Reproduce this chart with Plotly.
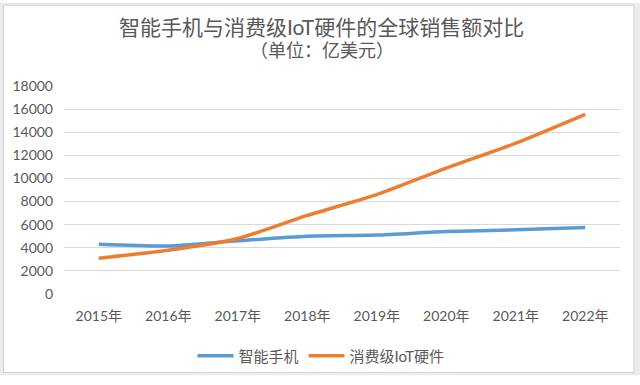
import plotly.graph_objects as go

years = ["2015年", "2016年", "2017年", "2018年", "2019年", "2020年", "2021年", "2022年"]
smartphone = [4300, 4150, 4600, 5000, 5100, 5400, 5550, 5750]
iot = [3100, 3780, 4800, 6800, 8600, 10900, 13050, 15550]
series_names = ["智能手机", "消费级IoT硬件"]
y_ticks = [0, 2000, 4000, 6000, 8000, 10000, 12000, 14000, 16000, 18000]

FONT = "Lato, Noto Sans CJK SC, sans-serif"
TXT = "#595959"

fig = go.Figure()
fig.add_trace(go.Scatter(x=years, y=smartphone, mode="lines", name=series_names[0],
                         line=dict(color="#5B9BD5", width=3.5, shape="spline", smoothing=0.6)))
fig.add_trace(go.Scatter(x=years, y=iot, mode="lines", name=series_names[1],
                         line=dict(color="#ED7D31", width=3.5, shape="spline", smoothing=0.6)))

L, R, T, B = 64, 20, 86, 84
W, H = 640, 385
pw, ph = W - L - R, H - T - B

def px(x):
    return (x - L) / pw

def py(y):
    return (H - B - y) / ph

fig.update_layout(
    width=W, height=H,
    margin=dict(l=L, r=R, t=T, b=B),
    paper_bgcolor="white", plot_bgcolor="white",
    font=dict(family=FONT, color=TXT, size=14),
    showlegend=True,
    legend=dict(orientation="h", x=px(321), xanchor="center", y=py(365), yanchor="middle",
                font=dict(size=15, color=TXT), itemwidth=36, tracegroupgap=0),
    xaxis=dict(showgrid=False, showline=False, ticks="", tickfont=dict(size=14, color=TXT),
               zeroline=False, fixedrange=True, range=[-0.5, 7.5], ticklabelstandoff=12),
    yaxis=dict(range=[0, 18000], tickvals=y_ticks, tickformat="d", showgrid=True, gridcolor="#d9d9d9",
               gridwidth=1, zeroline=False, showline=False, ticks="", ticklabelstandoff=10,
               tickfont=dict(size=14, color=TXT), fixedrange=True),
    annotations=[
        dict(text="智能手机与消费级IoT硬件的全球销售额对比", x=px(321), y=py(25), xref="paper", yref="paper",
             showarrow=False, xanchor="center", yanchor="middle",
             font=dict(size=21, color=TXT, family=FONT)),
        dict(text="（单位：亿美元）", x=px(322), y=py(49), xref="paper", yref="paper",
             showarrow=False, xanchor="center", yanchor="middle",
             font=dict(size=18, color=TXT, family=FONT)),
    ],
    shapes=[
        dict(type="rect", xref="paper", yref="paper", x0=px(0), x1=px(W), y0=py(H), y1=py(0),
             fillcolor="#ececec", line=dict(width=0), layer="below"),
        dict(type="rect", xref="paper", yref="paper", x0=px(3.5), x1=px(634), y0=py(382), y1=py(2.5),
             fillcolor="white", line=dict(color="#d0d0d0", width=1), layer="below"),
    ],
)

fig.write_html("out.html", config={"displayModeBar": False},
               post_script="document.body.style.margin='0';document.body.style.padding='0';document.body.style.overflow='hidden';")
